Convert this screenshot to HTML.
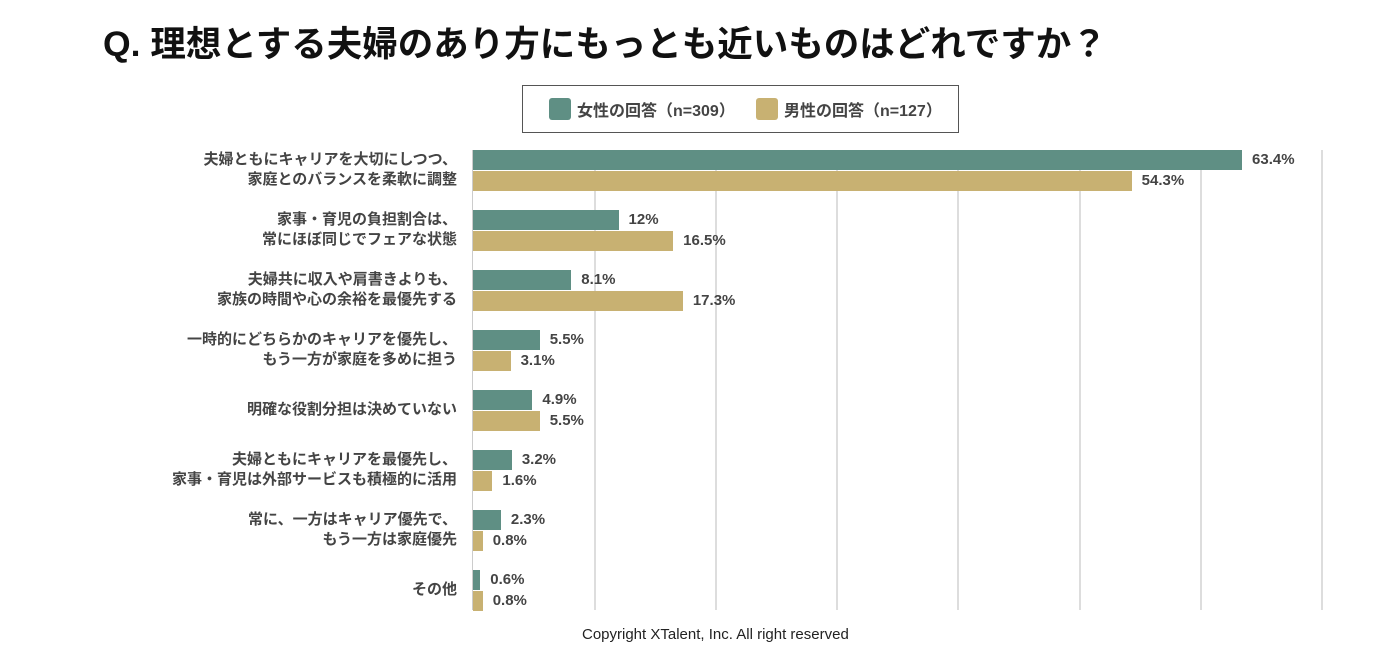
<!DOCTYPE html>
<html><head><meta charset="utf-8"><style>
body{margin:0;width:1400px;height:650px;background:#fff;position:relative;overflow:hidden;font-family:"Liberation Sans","Noto Sans CJK JP",sans-serif;}
.a{position:absolute;}
.t{left:103px;top:16px;font-size:35.5px;font-weight:bold;color:#111;white-space:nowrap;}
.lg{left:522px;top:85px;width:435px;height:46px;border:1px solid #555;}
.sw{width:22px;height:22px;border-radius:3px;top:12px;}
.lt{top:11px;font-size:16px;font-weight:bold;color:#444;white-space:nowrap;}
.g{width:2px;background:#ddd;top:150px;height:460px;}
.lab{right:943px;font-size:15px;font-weight:bold;color:#444;text-align:right;line-height:20px;white-space:nowrap;}
.bar{left:473px;height:20px;}
.gr{background:#5f8f84;}
.go{background:#c8b172;}
.v{font-size:15px;font-weight:bold;color:#444;line-height:20px;white-space:nowrap;}
.c{left:582px;top:626px;font-size:15px;color:#222;white-space:nowrap;}
</style></head><body>
<div class="a t">Q. 理想とする夫婦のあり方にもっとも近いものはどれですか？</div>
<div class="a lg">
<div class="a sw gr" style="left:26px"></div><div class="a lt" style="left:54px">女性の回答（n=309）</div>
<div class="a sw go" style="left:233px"></div><div class="a lt" style="left:261px">男性の回答（n=127）</div>
</div>
<div class="a g" style="left:594px"></div><div class="a g" style="left:715px"></div><div class="a g" style="left:836px"></div><div class="a g" style="left:957px"></div><div class="a g" style="left:1079px"></div><div class="a g" style="left:1200px"></div><div class="a g" style="left:1321px"></div>
<div class="a" style="left:472px;top:150px;width:1px;height:460px;background:#ccc"></div>
<div id="c"></div>
<div class="a c">Copyright XTalent, Inc. All right reserved</div>
<script>
var d=[["夫婦ともにキャリアを大切にしつつ、<br>家庭とのバランスを柔軟に調整",63.4,54.3],
["家事・育児の負担割合は、<br>常にほぼ同じでフェアな状態",12,16.5],
["夫婦共に収入や肩書きよりも、<br>家族の時間や心の余裕を最優先する",8.1,17.3],
["一時的にどちらかのキャリアを優先し、<br>もう一方が家庭を多めに担う",5.5,3.1],
["明確な役割分担は決めていない",4.9,5.5],
["夫婦ともにキャリアを最優先し、<br>家事・育児は外部サービスも積極的に活用",3.2,1.6],
["常に、一方はキャリア優先で、<br>もう一方は家庭優先",2.3,0.8],
["その他",0.6,0.8]];
var h="",k=12.13;
d.forEach(function(r,i){var y=150+60*i;
var two=r[0].indexOf("<br>")>0;
h+='<div class="a lab" style="top:'+(two?y:y+10)+'px">'+r[0]+'</div>';
[[r[1],"gr",y],[r[2],"go",y+21]].forEach(function(b){var w=b[0]*k;
h+='<div class="a bar '+b[1]+'" style="top:'+b[2]+'px;width:'+w+'px"></div>';
h+='<div class="a v" style="left:'+(473+w+10)+'px;top:'+b[2]+'px">'+b[0]+'%</div>';});});
document.getElementById("c").innerHTML=h;
</script>
</body></html>
